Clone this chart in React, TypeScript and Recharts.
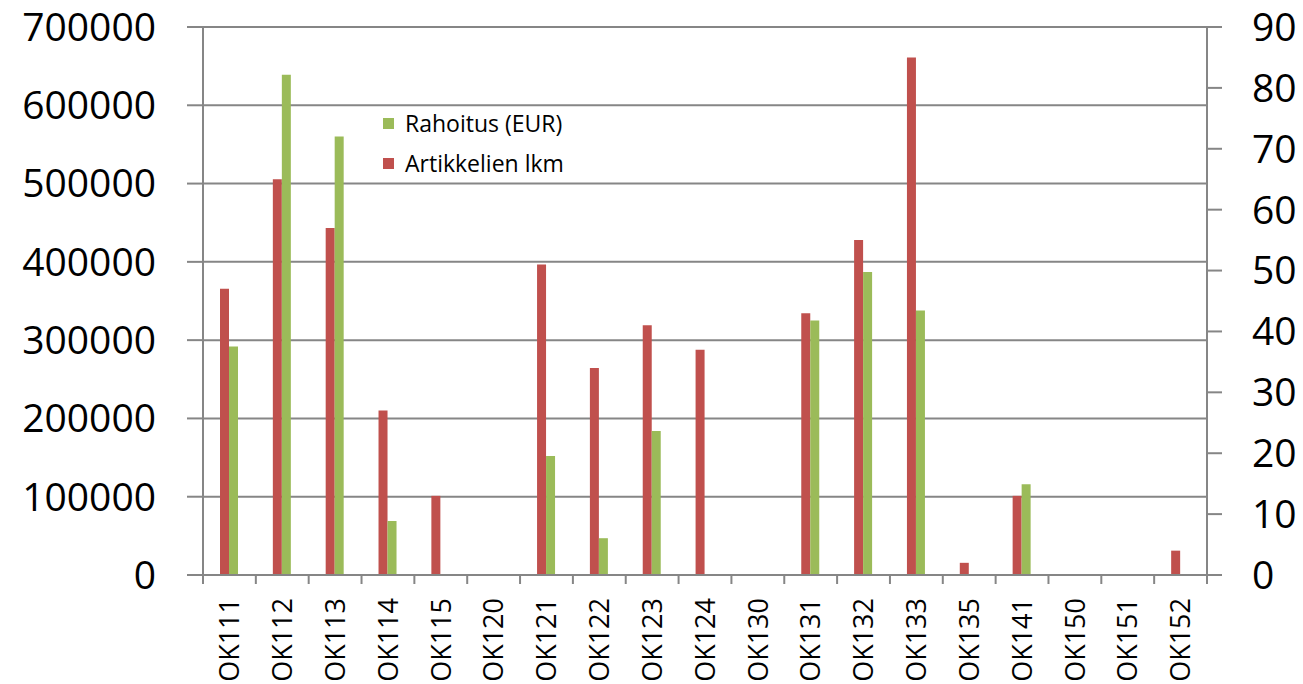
import { BarChart, Bar, XAxis, YAxis, CartesianGrid } from "recharts";

const categories = [
  "OK111", "OK112", "OK113", "OK114", "OK115", "OK120", "OK121", "OK122", "OK123", "OK124",
  "OK130", "OK131", "OK132", "OK133", "OK135", "OK141", "OK150", "OK151", "OK152",
];
const artikkelit = [47, 65, 57, 27, 13, null, 51, 34, 41, 37, null, 43, 55, 85, 2, 13, null, null, 4];
const rahoitus = [
  292000, 639000, 560000, 69000, null, null, 152000, 47000, 184000, null,
  null, 325000, 387000, 338000, null, 116000, null, null, null,
];
const leftTicks = [0, 100000, 200000, 300000, 400000, 500000, 600000, 700000];
const rightTicks = [0, 10, 20, 30, 40, 50, 60, 70, 80, 90];

const data = categories.map((c, i) => ({
  name: c,
  artikkelit: artikkelit[i],
  rahoitus: rahoitus[i],
}));

const GRID = "#868686";
const RED = "#C0504D";
const GREEN = "#9BBB59";
const FONT = "'Open Sans', sans-serif";

function CategoryTick(props: any) {
  const { x, y, payload, index, width } = props;
  const bw = (width || 1004) / categories.length;
  const left = x - bw / 2;
  return (
    <g>
      <line x1={left} y1={y} x2={left} y2={y + 9} stroke={GRID} strokeWidth={2} />
      {index === categories.length - 1 && (
        <line x1={x + bw / 2} y1={y} x2={x + bw / 2} y2={y + 9} stroke={GRID} strokeWidth={2} />
      )}
      <text
        x={x}
        y={y + 23}
        dy="0.36em"
        transform={`rotate(-90, ${x}, ${y + 23})`}
        textAnchor="end"
        fill="#000"
        fontFamily={FONT}
        fontSize={27}
      >
        {payload.value}
      </text>
    </g>
  );
}

function LegendBox() {
  const items = [
    { label: "Rahoitus (EUR)", color: GREEN },
    { label: "Artikkelien lkm", color: RED },
  ];
  return (
    <div
      style={{
        position: "absolute",
        left: 383,
        top: 103,
        fontFamily: FONT,
        fontSize: 23,
        color: "#000",
      }}
    >
      {items.map((it) => (
        <div key={it.label} style={{ display: "flex", alignItems: "center", height: 40 }}>
          <span style={{ width: 11, height: 11, background: it.color, marginRight: 11 }} />
          <span>{it.label}</span>
        </div>
      ))}
    </div>
  );
}

export default function App() {
  return (
    <div style={{ position: "absolute", left: 0, top: 0, width: 1303, height: 684, background: "#fff" }}>
      <BarChart
        width={1303}
        height={684}
        data={data}
        margin={{ top: 27, right: 0, left: 0, bottom: 0 }}
        barGap={0}
        barSize={9}
      >
        <CartesianGrid yAxisId="left" vertical={false} stroke={GRID} strokeWidth={2} />
        <XAxis
          dataKey="name"
          height={109}
          interval={0}
          tickSize={0}
          tickMargin={0}
          tickLine={false}
          axisLine={{ stroke: GRID, strokeWidth: 2 }}
          tick={<CategoryTick />}
        />
        <YAxis
          yAxisId="left"
          width={203}
          domain={[0, 700000]}
          ticks={leftTicks}
          interval={0}
          tickSize={16}
          tickMargin={31}
          axisLine={{ stroke: GRID, strokeWidth: 2 }}
          tickLine={{ stroke: GRID, strokeWidth: 2 }}
          tick={{ fill: "#000", fontFamily: FONT, fontSize: 39 }}
        />
        <YAxis
          yAxisId="right"
          orientation="right"
          width={96}
          domain={[0, 90]}
          ticks={rightTicks}
          interval={0}
          tickSize={15}
          tickMargin={30}
          axisLine={{ stroke: GRID, strokeWidth: 2 }}
          tickLine={{ stroke: GRID, strokeWidth: 2 }}
          tick={{ fill: "#000", fontFamily: FONT, fontSize: 39, textAnchor: "start" }}
        />
        <Bar yAxisId="right" dataKey="artikkelit" name="Artikkelien lkm" fill={RED} isAnimationActive={false} />
        <Bar yAxisId="left" dataKey="rahoitus" name="Rahoitus (EUR)" fill={GREEN} isAnimationActive={false} />
      </BarChart>
      <LegendBox />
    </div>
  );
}
